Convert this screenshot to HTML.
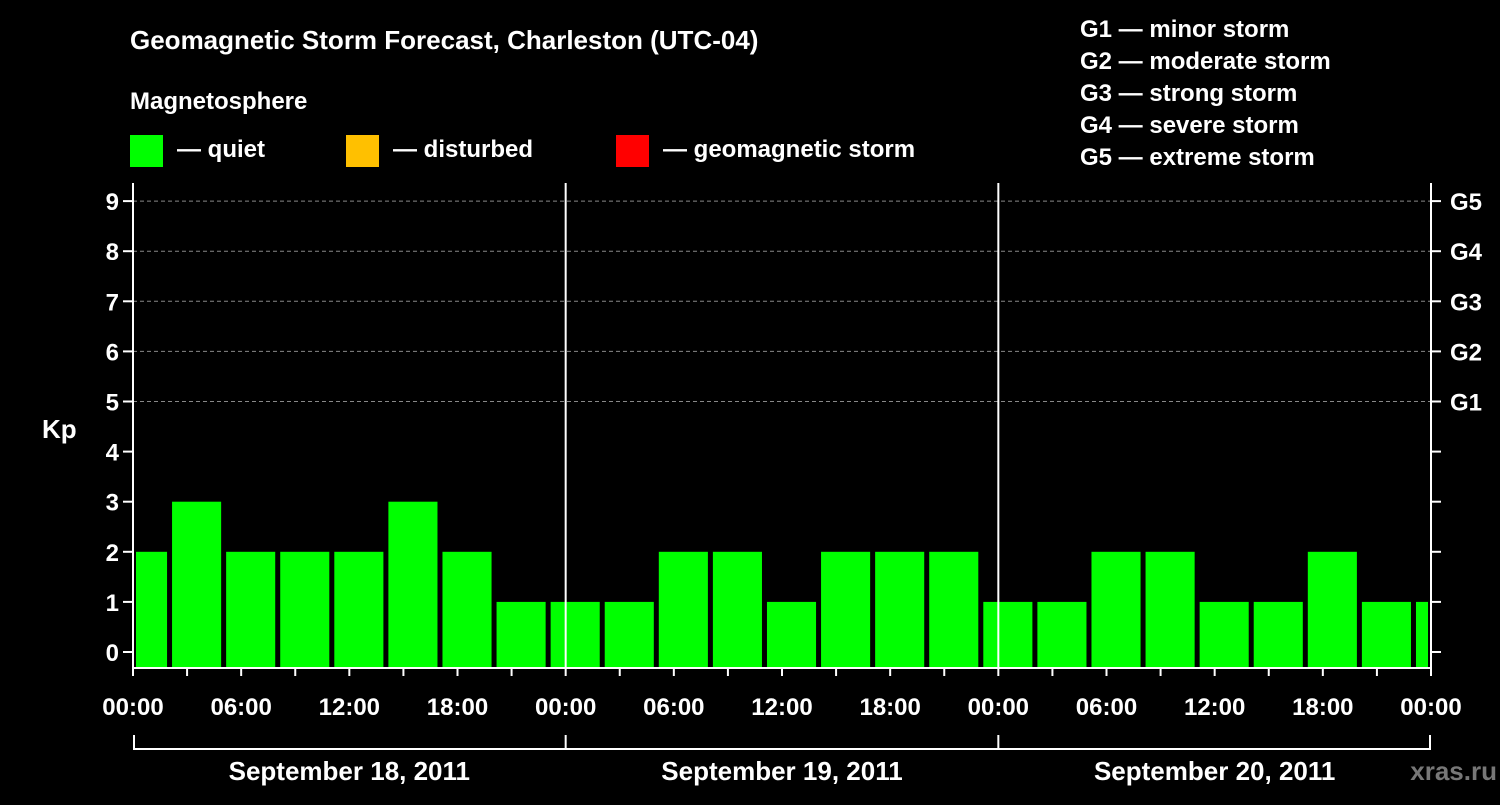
<!DOCTYPE html>
<html><head><meta charset="utf-8"><style>
body{margin:0;background:#000;}
svg text{font-family:"Liberation Sans",Arial,sans-serif;font-weight:bold;fill:#fff;}
</style></head><body>
<svg id="c" width="1500" height="800" viewBox="0 0 1500 800">
<rect width="1500" height="800" fill="#000"/>
<text x="130" y="49" font-size="26">Geomagnetic Storm Forecast, Charleston (UTC-04)</text>
<text x="130" y="109" font-size="24">Magnetosphere</text>
<g><rect x="130" y="135" width="33" height="32" fill="#00ff00"/><text x="177" y="157" font-size="24">— quiet</text></g>
<g><rect x="346" y="135" width="33" height="32" fill="#ffc000"/><text x="393" y="157" font-size="24">— disturbed</text></g>
<g><rect x="616" y="135" width="33" height="32" fill="#ff0000"/><text x="663" y="157" font-size="24">— geomagnetic storm</text></g>
<g font-size="24">
<text x="1080" y="37">G1 — minor storm</text>
<text x="1080" y="69">G2 — moderate storm</text>
<text x="1080" y="101">G3 — strong storm</text>
<text x="1080" y="133">G4 — severe storm</text>
<text x="1080" y="165">G5 — extreme storm</text>
</g>
<text x="42" y="438" font-size="26">Kp</text>
<g id="grid"></g><g id="bars"></g><g id="axes"></g>
<text x="1497" y="780" font-size="26" text-anchor="end" style="fill:#777">xras.ru</text>
</svg>
<script>
const kpValues=[2,3,2,2,2,3,2,1,1,1,2,2,1,2,2,2,1,1,2,2,1,1,2,1,1];
const barStartHours=[-1,2,5,8,11,14,17,20,23,26,29,32,35,38,41,44,47,50,53,56,59,62,65,68,71];
const yTicks=[0,1,2,3,4,5,6,7,8,9];
const gLabels=["G1","G2","G3","G4","G5"];
const gLevels=[5,6,7,8,9];
const xTickLabels=["00:00","06:00","12:00","18:00","00:00","06:00","12:00","18:00","00:00","06:00","12:00","18:00","00:00"];
const dayLabels=["September 18, 2011","September 19, 2011","September 20, 2011"];
const NS="http://www.w3.org/2000/svg";
const X0=133,X1=1431,H=72,TOP=183,BOT=668;
const x=h=>X0+(X1-X0)*h/H;
const y=v=>652-v*50.1;
function mk(tag,at,parent){const e=document.createElementNS(NS,tag);for(const k in at)e.setAttribute(k,at[k]);document.getElementById(parent).appendChild(e);return e;}
gLevels.forEach((v,i)=>{
 const l=mk('line',{x1:X0,x2:X1,y1:y(v),y2:y(v),stroke:'#888','stroke-dasharray':'4 3','stroke-width':1},'grid');
 
 
 const t=mk('text',{x:1450,y:y(v)+9,'font-size':24},'axes');t.textContent=gLabels[i];
 
 
});
kpValues.forEach((v,i)=>{
 const s=Math.max(x(barStartHours[i])+3,X0+3),e=Math.min(x(barStartHours[i]+3)-2,X1-3);
 const r=mk('rect',{x:s,y:y(v),width:e-s,height:BOT-y(v),fill:v>=5?'#ff0000':(v>=4?'#ffc000':'#00ff00')},'bars');
 
 
});
[[X0,TOP,X0,BOT+1],[X1,TOP,X1,BOT+1],[X0,BOT,X1,BOT],[x(24),TOP,x(24),BOT],[x(48),TOP,x(48),BOT]].forEach(a=>{
 const l=mk('line',{x1:a[0],y1:a[1],x2:a[2],y2:a[3],stroke:'#fff','stroke-width':2},'axes');
 
 
});
yTicks.forEach(v=>{
 mk('line',{x1:X0-10,x2:X0,y1:y(v),y2:y(v),stroke:'#fff','stroke-width':2},'axes');
 mk('line',{x1:X1,x2:X1+10,y1:y(v),y2:y(v),stroke:'#fff','stroke-width':2},'axes');
 const t=mk('text',{x:X0-14,y:y(v)+9,'font-size':24,'text-anchor':'end'},'axes');t.textContent=v;
 
 
});
for(let h=0;h<=H;h+=3){mk('line',{x1:x(h),x2:x(h),y1:BOT,y2:BOT+8,stroke:'#fff','stroke-width':2},'axes');}
xTickLabels.forEach((s,i)=>{
 const t=mk('text',{x:x(i*6),y:715,'font-size':24,'text-anchor':'middle'},'axes');t.textContent=s;
 
 
});
mk('line',{x1:X0+1,x2:X1-1,y1:749,y2:749,stroke:'#fff','stroke-width':2},'axes');
for(let d=0;d<=3;d++){mk('line',{x1:x(d*24)+(d==0?1:d==3?-1:0),x2:x(d*24)+(d==0?1:d==3?-1:0),y1:735,y2:750,stroke:'#fff','stroke-width':2},'axes');}
dayLabels.forEach((s,i)=>{
 const t=mk('text',{x:x(i*24+12),y:780,'font-size':26,'text-anchor':'middle'},'axes');t.textContent=s;
 
 
});
</script>
</body></html>
